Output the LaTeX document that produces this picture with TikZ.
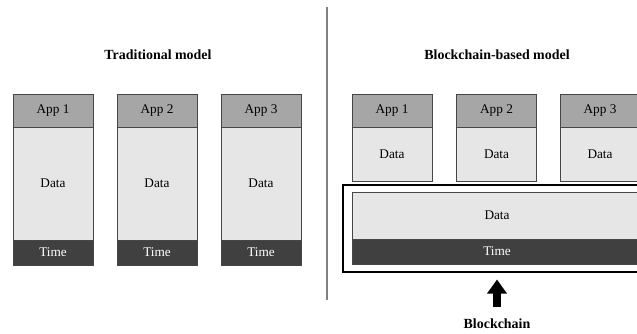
\documentclass[tikz,border=0pt]{standalone}
\usepackage{fontspec}
\setmainfont{Liberation Serif}
\usetikzlibrary{positioning,fit,arrows.meta}

\definecolor{headgray}{RGB}{166,166,166}
\definecolor{datagray}{RGB}{230,230,230}
\definecolor{timegray}{RGB}{64,64,64}
\definecolor{linegray}{RGB}{70,70,70}

\begin{document}
\begin{tikzpicture}[x=1bp, y=-1bp, font=\fontsize{13.3}{15}\selectfont,
    cell/.style ={draw=linegray, line width=0.8bp, minimum width=80bp, inner sep=0pt, outer sep=0pt},
    apphead/.style ={cell, fill=headgray, minimum height=33bp},
    datacell/.style ={cell, fill=datagray},
    timecell/.style ={cell, fill=timegray, text=white, minimum height=25bp},
    heading/.style ={font=\fontsize{14}{16}\selectfont\bfseries, inner sep=0pt},
    chainarrow/.style ={line width=8bp, -{Triangle[width=19bp, length=14bp]}}]
   \useasboundingbox (0,0) rectangle (637,333);
   \clip (0,0) rectangle (637,333);

   % traditional model
   \node[heading] (tradtitle) at (158,55) {Traditional model};
   \node[apphead] (tapp1) at (53,110.5)  {App 1};
   \node[apphead] (tapp2) at (157,110.5) {App 2};
   \node[apphead] (tapp3) at (261,110.5) {App 3};
   \node[datacell, minimum height=113bp, below=0pt of tapp1] (tdata1) {Data};
   \node[datacell, minimum height=113bp, below=0pt of tapp2] (tdata2) {Data};
   \node[datacell, minimum height=113bp, below=0pt of tapp3] (tdata3) {Data};
   \node[timecell, below=0pt of tdata1] (ttime1) {Time};
   \node[timecell, below=0pt of tdata2] (ttime2) {Time};
   \node[timecell, below=0pt of tdata3] (ttime3) {Time};

   \draw[line width=1.2bp, gray] (327,7) -- (327,300);

   % blockchain-based model
   \node[heading] (bctitle) at (497,55) {Blockchain-based model};
   \node[apphead] (bapp1) at (392,110.5) {App 1};
   \node[apphead] (bapp2) at (496.5,110.5) {App 2};
   \node[apphead] (bapp3) at (600,110.5) {App 3};
   \node[datacell, minimum height=54bp, below=0pt of bapp1] (bdata1) {Data};
   \node[datacell, minimum height=54bp, below=0pt of bapp2] (bdata2) {Data};
   \node[datacell, minimum height=54bp, below=0pt of bapp3] (bdata3) {Data};
   \node[datacell, minimum width=290bp, minimum height=47bp] (sdata) at (497,215.5) {Data};
   \node[timecell, minimum width=290bp, below=0pt of sdata] (stime) {Time};
   \node[draw, line width=2bp, inner xsep=9bp, inner ysep=7.5bp, fit=(sdata)(stime)] (chainbox) {};

   \node[heading] (chain) at (497,324) {Blockchain};
   \draw[chainarrow, shorten <=12bp, shorten >=7bp] (chain.north) -- (chainbox.south);
\end{tikzpicture}
\end{document}
